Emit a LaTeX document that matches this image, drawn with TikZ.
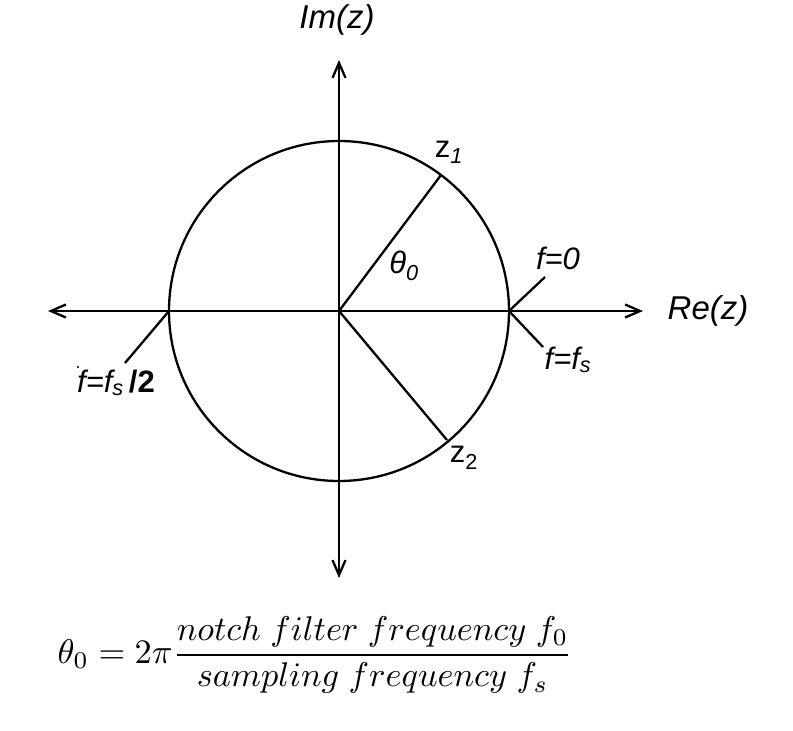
\documentclass[tikz,border=0pt]{standalone}
\usepackage{fontspec}
\setmainfont{Liberation Sans}
\usetikzlibrary{arrows.meta}
\begin{document}
\begin{tikzpicture}[x=1pt,y=-1pt,
  ln/.style={line width=2.3pt},
  axis/.style={ln,{Straight Barb[length=15pt,width=13pt]}-{Straight Barb[length=15pt,width=13pt]}},
  lbl/.style={inner sep=0pt,font=\fontsize{33}{40}\selectfont\itshape},
  slbl/.style={inner sep=0pt,font=\fontsize{31}{37}\selectfont\itshape}]
\useasboundingbox (0,0) rectangle (793,731);
% key points
\coordinate (O) at (339,311);
\coordinate (L) at (48,311);
\coordinate (R) at (643,311);
\coordinate (T) at (339,60);
\coordinate (B) at (339,578);
\coordinate (E) at (509,311);
\coordinate (W) at (169,311);
\coordinate (P1) at (441,175);
\coordinate (P2) at (447,440);
\coordinate (t0) at (545,277);
\coordinate (ts) at (543,347);
\coordinate (th) at (125,363);
% axes and circle
\draw[axis] (L) -- (R);
\draw[axis] (B) -- (T);
\draw[ln] (O) circle[radius=170];
% radii
\draw[ln] (O) -- (P1);
\draw[ln] (O) -- (P2);
% ticks
\draw[ln] (E) -- (t0);
\draw[ln] (E) -- (ts);
\draw[ln] (W) -- (th);
% labels
\node[lbl] (im) at (337,20) {Im(z)};
\node[lbl] (re) at (708,311) {Re(z)};
\node[slbl] (f0) at (558,258) {f=0};
\node[slbl] (ffs) at (568,360) {f=f\textsubscript{s}};
\node[slbl] (fh) at (116,383) {f=f\textsubscript{s}\,{\upshape\bfseries/2}};
\fill (78,367) circle[radius=1.2];
\node[slbl,font=\fontsize{31}{37}\selectfont\upshape] (z1) at (449,152) {z\textsubscript{\itshape 1}};
\node[slbl,font=\fontsize{31}{37}\selectfont\upshape] (z2) at (464,458) {z\textsubscript{2}};
\node[slbl] (th0) at (404,266) {θ\textsubscript{0}};
% formula
\node[inner sep=0pt,scale=3.43] (eq) at (315,655)
  {$\displaystyle \theta_0 = 2\pi\frac{notch\ filter\ frequency\ f_0}{sampling\ frequency\ f_s}$};
\end{tikzpicture}
\end{document}
